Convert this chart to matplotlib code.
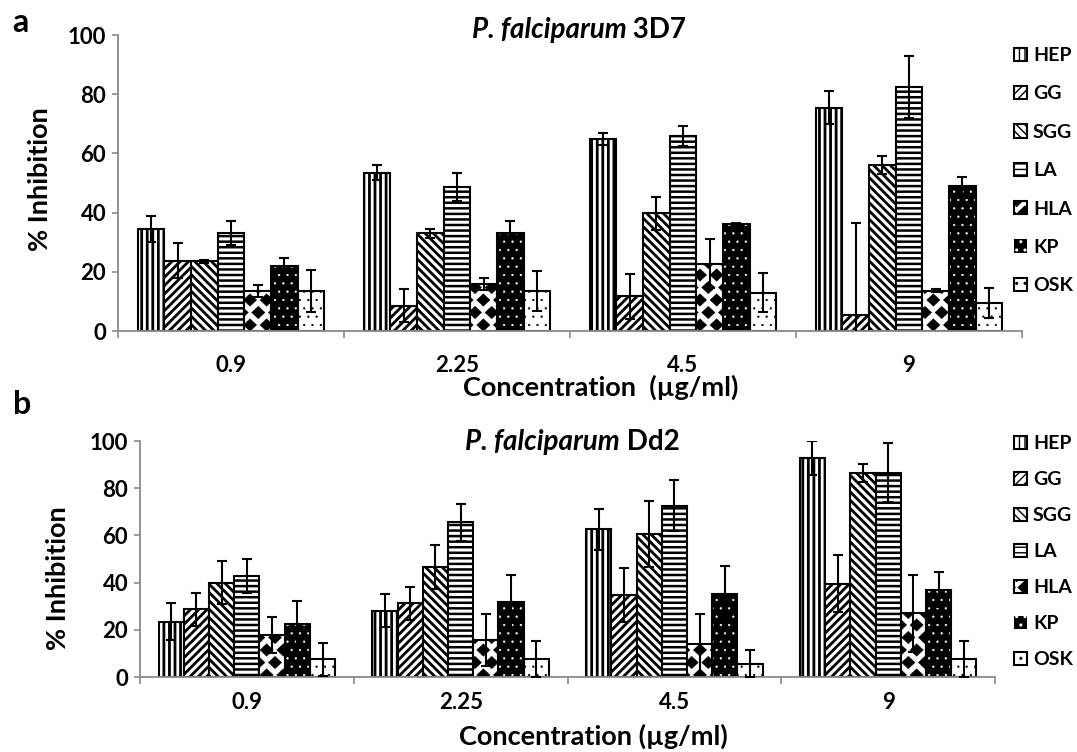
import warnings
warnings.filterwarnings("ignore")
import numpy as np
import matplotlib
matplotlib.use("Agg")
import matplotlib.pyplot as plt
import matplotlib.hatch as mhatch
from matplotlib.path import Path
from matplotlib.offsetbox import TextArea, HPacker, AnchoredOffsetbox

# ---------------- data ----------------
concentrations = ["0.9", "2.25", "4.5", "9"]
series = ["HEP", "GG", "SGG", "LA", "HLA", "KP", "OSK"]

# P. falciparum 3D7 (panel a)
a_HEP = [34.5, 53.5, 65.0, 75.5]
a_GG = [23.8, 8.6, 11.7, 5.5]
a_SGG = [23.5, 33.0, 39.7, 56.0]
a_LA = [33.0, 48.7, 66.0, 82.5]
a_HLA = [13.6, 16.0, 22.7, 13.6]
a_KP = [22.0, 33.0, 36.2, 48.9]
a_OSK = [13.5, 13.5, 13.0, 9.5]
a_HEP_err = [4.5, 2.5, 2.0, 5.5]
a_GG_err = [6.0, 5.5, 7.5, 31.0]
a_SGG_err = [0.5, 1.5, 5.5, 3.0]
a_LA_err = [4.0, 4.7, 3.4, 10.5]
a_HLA_err = [2.0, 2.0, 8.3, 0.5]
a_KP_err = [2.5, 4.0, 0.3, 3.0]
a_OSK_err = [7.0, 6.7, 6.6, 5.0]

# P. falciparum Dd2 (panel b)
b_HEP = [23.4, 28.0, 62.6, 92.8]
b_GG = [28.7, 31.2, 34.6, 39.5]
b_SGG = [40.0, 46.6, 60.5, 86.6]
b_LA = [42.8, 65.5, 72.6, 86.6]
b_HLA = [17.7, 15.8, 13.8, 27.1]
b_KP = [22.3, 31.8, 35.2, 37.0]
b_OSK = [7.6, 7.6, 5.6, 7.6]
b_HEP_err = [7.8, 7.0, 8.7, 7.2]
b_GG_err = [7.0, 7.0, 11.4, 12.0]
b_SGG_err = [9.0, 9.5, 14.0, 3.8]
b_LA_err = [7.0, 7.8, 10.7, 12.6]
b_HLA_err = [7.6, 11.0, 13.0, 16.3]
b_KP_err = [10.0, 11.4, 11.8, 7.5]
b_OSK_err = [7.0, 7.6, 5.8, 7.8]

y_ticks = [0, 20, 40, 60, 80, 100]

# ---------------- custom diamond hatch ----------------
class DiamondHatch(mhatch.HatchPatternBase):
    def __init__(self, hatch, density):
        k = hatch.count('d')
        self.num_vertices = 0
        if k == 0:
            return
        self.ncol = k * density
        self.nrow = k * (density + 2)
        cs = []
        for r in range(self.nrow + 1):
            y = r / self.nrow
            if r % 2 == 0:
                xs = np.linspace(0, 1, self.ncol + 1)
            else:
                xs = (np.arange(self.ncol) + 0.5) / self.ncol
            for x in xs:
                cs.append((x, y))
        self.centers = np.array(cs)
        self.num_vertices = len(cs) * 5

    def set_vertices_and_codes(self, vertices, codes):
        hw = 0.40 / self.ncol
        hh = 0.50 / self.nrow
        shape = np.array([[0, -hh], [hw, 0], [0, hh], [-hw, 0], [0, -hh]])
        scodes = np.array([Path.MOVETO, Path.LINETO, Path.LINETO, Path.LINETO,
                           Path.CLOSEPOLY], dtype=Path.code_type)
        parts = [shape + c for c in self.centers]
        np.concatenate(parts, out=vertices)
        np.concatenate([scodes] * len(self.centers), out=codes)

mhatch._hatch_types.append(DiamondHatch)

# ---------------- style ----------------
FONT = ["Lato", "DejaVu Sans"]
plt.rcParams['font.family'] = FONT
plt.rcParams['font.weight'] = 'bold'

hatches = ['|||', '////', '\\\\\\\\', '---', 'd', '..', '..']
hatch_lw = [2.0, 2.0, 2.0, 1.8, 0.3, 0.4, 0.4]
GREY = '#8a8a8a'

fig = plt.figure(figsize=(10.77, 7.52), dpi=100)
W, H = 1077.0, 752.0


def make_bar(ax, pos, v, w, i):
    with plt.rc_context({'hatch.linewidth': hatch_lw[i]}):
        if series[i] == 'KP':
            h = ax.bar(pos, v, w, facecolor='black', edgecolor='white',
                       linewidth=0, hatch=hatches[i], zorder=2)
            ax.bar(pos, v, w, fill=False, edgecolor='black', linewidth=1.5, zorder=2.1)
        else:
            h = ax.bar(pos, v, w, facecolor='white', edgecolor='black',
                       linewidth=1.5, hatch=hatches[i], zorder=2)
    for p in h.patches:
        if hasattr(p, 'set_hatch_linewidth'):
            p.set_hatch_linewidth(hatch_lw[i])
    return h


def panel(ax, vals, errs, xpad, legend_top, labelspacing):
    n = len(series)
    w = 0.118
    x = np.arange(len(concentrations))
    handles = []
    for i in range(n):
        pos = x + (i - (n - 1) / 2) * w
        h = make_bar(ax, pos, vals[i], w, i)
        ax.errorbar(pos, vals[i], yerr=errs[i], fmt='none', ecolor='black',
                    elinewidth=1.5, capsize=3.5, capthick=1.5, zorder=3)
        handles.append(h)
    ax.set_xlim(-0.5, len(concentrations) - 0.5)
    ax.set_ylim(0, 100)
    ax.set_yticks(y_ticks)
    ax.set_yticklabels([str(t) for t in y_ticks], fontsize=16, fontweight='bold')
    ax.set_xticks(np.arange(len(concentrations) + 1) - 0.5)
    ax.set_xticklabels([])
    ax.set_xticks(x, minor=True)
    ax.set_xticklabels(concentrations, minor=True, fontsize=16, fontweight='bold')
    ax.tick_params(axis='x', which='minor', length=0, pad=xpad)
    ax.tick_params(axis='x', which='major', length=5, width=1.2, color=GREY, direction='out')
    ax.tick_params(axis='y', length=4.5, width=1.2, color=GREY, pad=4)
    for s in ['top', 'right']:
        ax.spines[s].set_visible(False)
    for s in ['left', 'bottom']:
        ax.spines[s].set_color(GREY)
        ax.spines[s].set_linewidth(1.3)
    ax.set_facecolor('none')
    ax.legend(handles, series, loc='upper left',
              bbox_to_anchor=(1014 / W, legend_top), bbox_transform=fig.transFigure,
              frameon=False, handlelength=0.68, handleheight=0.68,
              handletextpad=0.3, labelspacing=labelspacing, borderpad=0,
              borderaxespad=0, prop={'family': FONT, 'weight': 'bold', 'size': 14})
    return ax


def title(xc, yc, strain):
    t1 = TextArea("P. falciparum", textprops=dict(fontsize=20, fontweight='bold',
                                                   fontstyle='italic', family=FONT))
    t2 = TextArea(" " + strain, textprops=dict(fontsize=20, fontweight='bold', family=FONT))
    box = HPacker(children=[t1, t2], align='baseline', pad=0, sep=0)
    ab = AnchoredOffsetbox(loc='center', child=box, pad=0, frameon=False,
                           bbox_to_anchor=(xc / W, 1 - yc / H),
                           bbox_transform=fig.transFigure, borderpad=0)
    fig.add_artist(ab)


# panel a
ax1 = fig.add_axes([118 / W, 1 - 331 / H, (1022 - 118) / W, (331 - 35) / H])
vals_a = [a_HEP, a_GG, a_SGG, a_LA, a_HLA, a_KP, a_OSK]
errs_a = [a_HEP_err, a_GG_err, a_SGG_err, a_LA_err, a_HLA_err, a_KP_err, a_OSK_err]
panel(ax1, vals_a, errs_a, 17, 1 - 47 / H, 1.10)

# panel b
ax2 = fig.add_axes([140 / W, 1 - 677 / H, (995 - 140) / W, (677 - 441) / H])
vals_b = [b_HEP, b_GG, b_SGG, b_LA, b_HLA, b_KP, b_OSK]
errs_b = [b_HEP_err, b_GG_err, b_SGG_err, b_LA_err, b_HLA_err, b_KP_err, b_OSK_err]
panel(ax2, vals_b, errs_b, 11, 1 - 435 / H, 0.98)

title(579, 30, "3D7")
title(572, 442, "Dd2")

fig.text(40 / W, 1 - 179 / H, "% Inhibition", rotation=90, ha='center', va='center',
         fontsize=19.5, fontweight='bold')
fig.text(58 / W, 1 - 578 / H, "% Inhibition", rotation=90, ha='center', va='center',
         fontsize=19.5, fontweight='bold')
fig.text(601 / W, 1 - 387 / H, "Concentration  (\u00b5g/ml)", ha='center', va='center',
         fontsize=19.5, fontweight='bold')
fig.text(593 / W, 1 - 736 / H, "Concentration (\u00b5g/ml)", ha='center', va='center',
         fontsize=19.5, fontweight='bold')
fig.text(20 / W, 1 - 22 / H, "a", ha='center', va='center', fontsize=23, fontweight='bold')
fig.text(22 / W, 1 - 405 / H, "b", ha='center', va='center', fontsize=23, fontweight='bold')

fig.savefig("out.png", dpi=100, facecolor='white')
